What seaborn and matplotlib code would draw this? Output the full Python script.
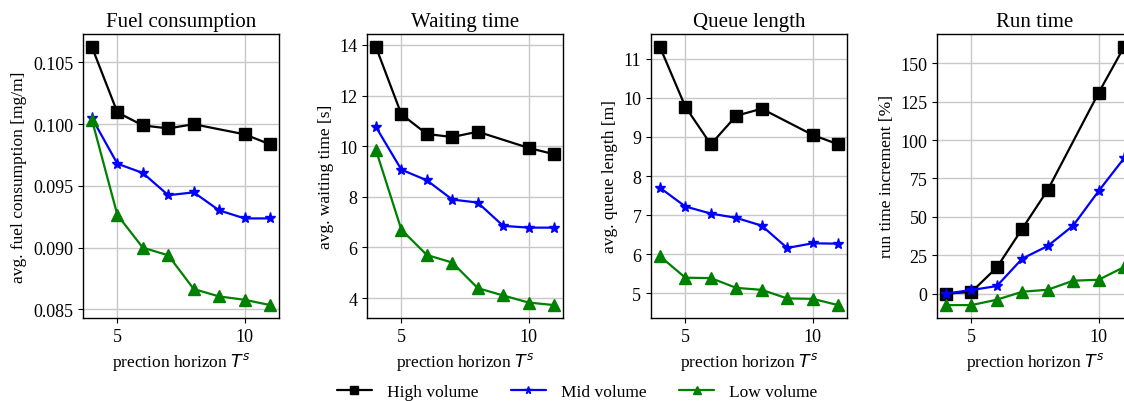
import numpy as np
import pandas as pd
import matplotlib
matplotlib.use("Agg")
import matplotlib.pyplot as plt
import seaborn as sns

# ---- data ----
horizon = [4, 5, 6, 7, 8, 9, 10, 11]
series_names = ["High volume", "Mid volume", "Low volume"]

fuel_high = [0.10626, 0.10096, 0.0999, 0.09966, 0.1000, np.nan, 0.09918, 0.09837]
fuel_mid = [0.1005, 0.0968, 0.09605, 0.09425, 0.09448, 0.09302, 0.09237, 0.09237]
fuel_low = [0.10036, 0.09265, 0.09000, 0.08938, 0.08665, 0.08605, 0.08578, 0.08535]

wait_high = [13.92, 11.26, 10.48, 10.36, 10.57, np.nan, 9.93, 9.68]
wait_mid = [10.76, 9.07, 8.65, 7.89, 7.77, 6.85, 6.78, 6.78]
wait_low = [9.85, 6.70, 5.70, 5.40, 4.39, 4.10, 3.82, 3.72]

queue_high = [11.30, 9.77, 8.81, 9.54, 9.72, np.nan, 9.05, 8.81]
queue_mid = [7.70, 7.22, 7.04, 6.93, 6.73, 6.16, 6.28, 6.27]
queue_low = [5.95, 5.40, 5.39, 5.14, 5.09, 4.87, 4.86, 4.70]

run_high = [0.0, 1.0, 17.0, 42.3, 67.5, np.nan, 130.8, 160.7]
run_mid = [0.0, 2.3, 4.9, 22.8, 31.0, 44.3, 66.8, 88.2]
run_low = [-7.5, -7.5, -4.0, 1.2, 2.5, 8.4, 9.0, 17.3]

titles = ["Fuel consumption", "Waiting time", "Queue length", "Run time"]
ylabels = ["avg. fuel consumption [mg/m]", "avg. waiting time [s]",
           "avg. queue length [m]", "run time increment [%]"]
xlabel = "prection horizon $T^s$"
xticks = [5, 10]
yticks = [
    [0.085, 0.090, 0.095, 0.100, 0.105],
    [4, 6, 8, 10, 12, 14],
    [5, 6, 7, 8, 9, 10, 11],
    [0, 25, 50, 75, 100, 125, 150],
]

panels = [
    [fuel_high, fuel_mid, fuel_low],
    [wait_high, wait_mid, wait_low],
    [queue_high, queue_mid, queue_low],
    [run_high, run_mid, run_low],
]

colors = ["black", "blue", "green"]
markers = ["s", "*", "^"]
msizes = [8, 8, 8]

# ---- style ----
sns.set_style("ticks", {"axes.grid": True})
plt.rcParams["font.family"] = ["Liberation Serif", "DejaVu Serif"]
plt.rcParams["mathtext.fontset"] = "dejavusans"
plt.rcParams.update({
    "axes.edgecolor": "black",
    "axes.linewidth": 1.0,
    "grid.color": "#c8c8c8",
    "grid.linewidth": 1.0,
    "xtick.color": "black",
    "ytick.color": "black",
    "xtick.direction": "out",
    "ytick.direction": "out",
    "xtick.major.size": 3.5,
    "ytick.major.size": 3.5,
    "axes.labelcolor": "black",
    "text.color": "black",
})

W, H = 1124, 402
fig = plt.figure(figsize=(W / 100, H / 100), dpi=100)

lefts = [83, 367, 651, 937]
axw = 196
top, bottom = 35, 319

axes = []
for i in range(4):
    ax = fig.add_axes([lefts[i] / W, 1 - bottom / H, axw / W, (bottom - top) / H])
    axes.append(ax)
    for j, name in enumerate(series_names):
        df = pd.DataFrame({"x": horizon, "y": panels[i][j]}).dropna()
        sns.lineplot(data=df, x="x", y="y", ax=ax, color=colors[j],
                     marker=markers[j], markersize=msizes[j],
                     markeredgecolor=colors[j], markeredgewidth=1.0,
                     linewidth=1.6, label=name)
    if ax.legend_ is not None:
        ax.legend_.remove()
    ax.set_title(titles[i], fontsize=15, pad=6)
    ax.set_xlabel(xlabel, fontsize=12.5)
    ax.set_ylabel(ylabels[i], fontsize=12.5)
    ax.set_xticks(xticks)
    ax.set_yticks(yticks[i])
    ax.set_xlim(3.65, 11.35)
    ax.tick_params(labelsize=13)
    ax.grid(True, color="#c8c8c8", linewidth=1.0)
    ax.set_axisbelow(True)

axes[0].yaxis.set_major_formatter(matplotlib.ticker.FormatStrFormatter("%.3f"))

handles, labels = axes[0].get_legend_handles_labels()
fig.legend(handles, labels, loc="center", bbox_to_anchor=(577 / W, 1 - 393 / H),
           ncol=3, frameon=False, fontsize=12.5, markerscale=0.7,
           handlelength=2.0, columnspacing=1.9, handletextpad=0.85)

fig.savefig("out.png", dpi=100)
